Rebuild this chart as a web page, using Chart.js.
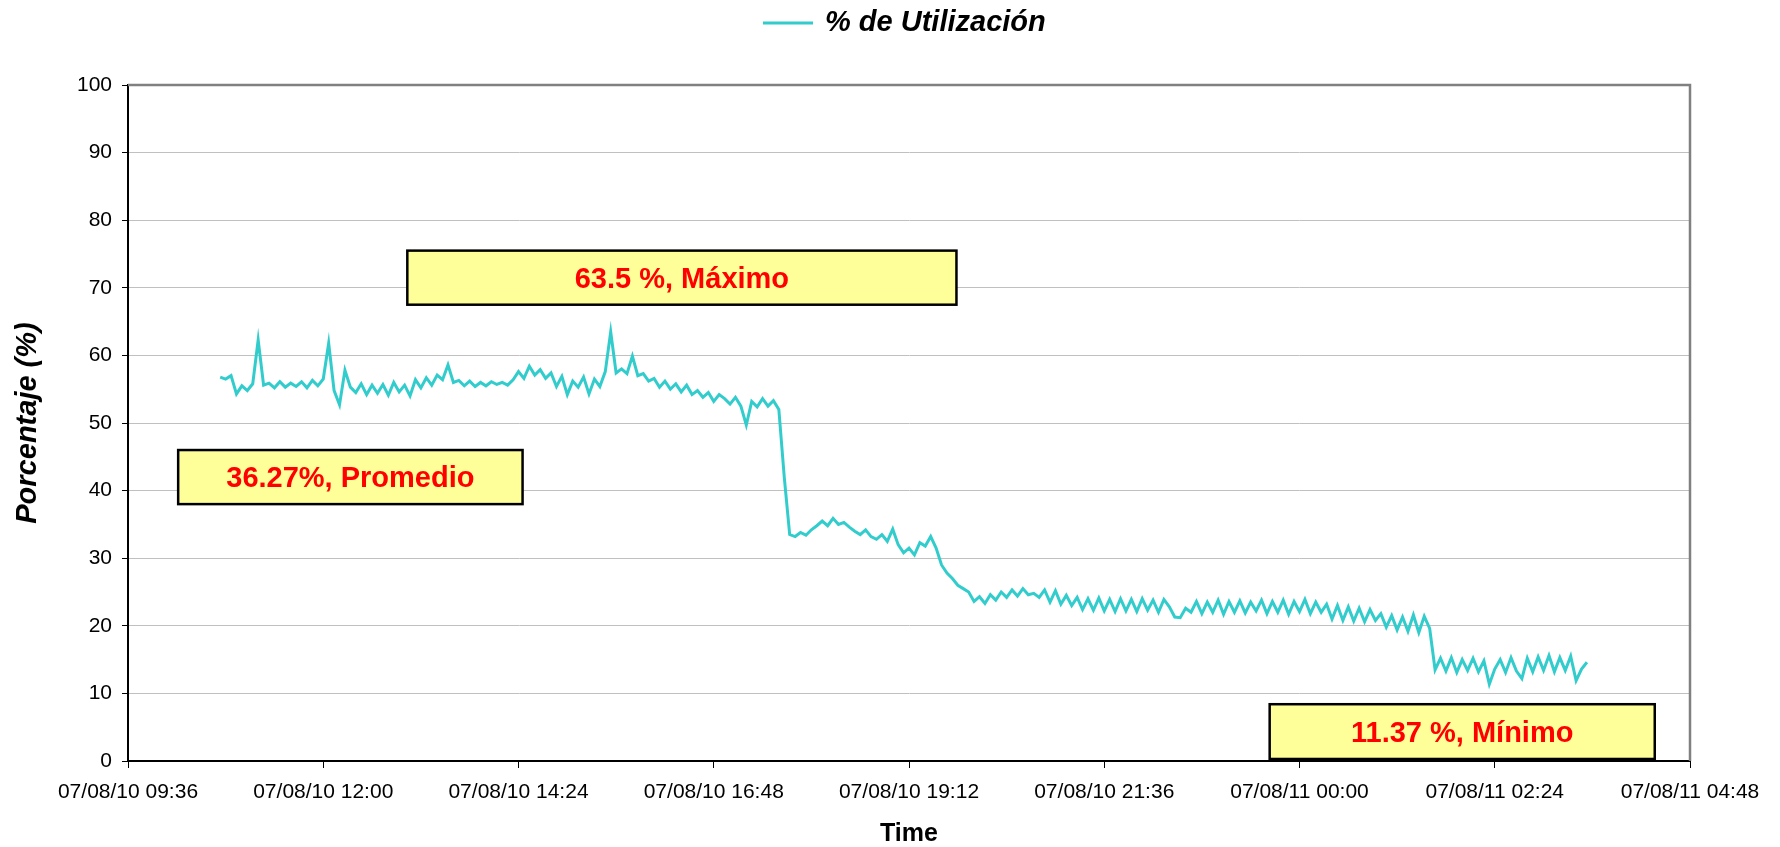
<!DOCTYPE html>
<html>
<head>
<meta charset="utf-8">
<script src="https://cdn.jsdelivr.net/npm/chart.js@4.4.1/dist/chart.umd.min.js"></script>
<style>
  html, body { margin: 0; padding: 0; background: #fff; }
</style>
</head>
<body>
<canvas id="grafico" width="1780" height="847"></canvas>
<script>
// etiquetas del eje de tiempo (cada 144 minutos desde 07/08/10 09:36)
const tickLabels = [
  '07/08/10 09:36', '07/08/10 12:00', '07/08/10 14:24', '07/08/10 16:48',
  '07/08/10 19:12', '07/08/10 21:36', '07/08/11 00:00', '07/08/11 02:24',
  '07/08/11 04:48'
];

// muestras cada 4 minutos, la primera a las 10:44 (68 min despues de 09:36)
const inicioMuestras = 68;
const pasoMinutos = 4;

const utilizacion = [
  56.8, 56.5, 57, 54.3, 55.5, 54.8, 55.8, 62.3, 55.6, 55.9, 55.2, 56.1, 55.3, 55.9, 55.4,
  56.1, 55.2, 56.3, 55.5, 56.5, 61.8, 54.8, 52.7, 57.8, 55.3, 54.5, 55.8, 54.2, 55.6, 54.4,
  55.7, 54.1, 56, 54.6, 55.6, 54, 56.4, 55.2, 56.7, 55.6, 57.1, 56.4, 58.6, 56, 56.3,
  55.5, 56.2, 55.4, 56, 55.5, 56.1, 55.7, 56, 55.6, 56.4, 57.6, 56.6, 58.4, 57.1, 57.9,
  56.6, 57.4, 55.4, 56.9, 54.2, 56.2, 55.3, 56.8, 54.3, 56.5, 55.4, 57.6, 63.5, 57.4, 58,
  57.3, 59.9, 57, 57.3, 56.2, 56.6, 55.3, 56.2, 55, 55.8, 54.6, 55.6, 54.2, 54.8, 53.8,
  54.5, 53.2, 54.2, 53.6, 52.8, 53.8, 52.5, 49.7, 53.2, 52.4, 53.6, 52.5, 53.3, 52, 42,
  33.5, 33.2, 33.8, 33.4, 34.2, 34.8, 35.5, 34.8, 35.9, 35, 35.3, 34.6, 34, 33.5, 34.2,
  33.2, 32.8, 33.5, 32.5, 34.3, 32, 30.8, 31.5, 30.5, 32.3, 31.8, 33.2, 31.5, 29, 27.8,
  27, 26, 25.5, 25, 23.6, 24.3, 23.3, 24.6, 23.8, 25, 24.2, 25.3, 24.4, 25.5, 24.6,
  24.8, 24.2, 25.3, 23.5, 25.2, 23.2, 24.5, 23, 24.2, 22.4, 24, 22.3, 24.1, 22.2, 23.9,
  22.1, 24, 22.2, 23.9, 22.1, 24, 22.3, 23.8, 22, 23.9, 22.8, 21.3, 21.2, 22.6, 22,
  23.6, 21.8, 23.5, 22, 23.8, 21.7, 23.6, 22, 23.7, 21.9, 23.5, 22.2, 23.8, 21.8, 23.6,
  22, 23.8, 21.7, 23.6, 22.1, 23.9, 21.8, 23.5, 22, 23.2, 21, 23, 20.8, 22.8, 20.7,
  22.6, 20.6, 22.4, 20.8, 21.8, 19.8, 21.5, 19.4, 21.3, 19.2, 21.6, 19, 21.4, 19.6, 13.5,
  15.2, 13.3, 15.3, 13.1, 15, 13.4, 15.2, 13.2, 14.8, 11.37, 13.6, 15, 13.1, 15.3, 13.3,
  12.2, 15.2, 13.2, 15.4, 13.4, 15.6, 13.2, 15.3, 13.4, 15.5, 11.9, 13.6, 14.6
];

// cuadros de texto: limites en minutos (x) y porcentaje (y)
const cuadros = [
  { texto: '36.27%, Promedio', x0: 37, x1: 291, y0: 38, y1: 46 },
  { texto: '63.5 %, Máximo', x0: 206, x1: 611, y0: 67.5, y1: 75.5 },
  { texto: '11.37 %, Mínimo', x0: 842, x1: 1126, y0: 0.3, y1: 8.4 }
];

const fuente = "'Liberation Sans', Arial, sans-serif";
const colorLinea = '#33CCCC';

const puntos = utilizacion.map((v, i) => ({ x: inicioMuestras + i * pasoMinutos, y: v }));

const extras = {
  id: 'extras',
  afterDraw(chart) {
    const ctx = chart.ctx;
    const { left, right, top, bottom } = chart.chartArea;
    const sx = chart.scales.x;
    const sy = chart.scales.y;
    ctx.save();

    // borde superior y derecho del area
    ctx.strokeStyle = '#808080';
    ctx.lineWidth = 2.5;
    ctx.beginPath();
    ctx.moveTo(left, top);
    ctx.lineTo(right, top);
    ctx.lineTo(right, bottom);
    ctx.stroke();

    // cuadros amarillos
    cuadros.forEach(c => {
      const x0 = sx.getPixelForValue(c.x0);
      const x1 = sx.getPixelForValue(c.x1);
      const y0 = sy.getPixelForValue(c.y1);
      const y1 = sy.getPixelForValue(c.y0);
      ctx.fillStyle = '#FFFF99';
      ctx.fillRect(x0, y0, x1 - x0, y1 - y0);
      ctx.strokeStyle = '#000';
      ctx.lineWidth = 2.5;
      ctx.strokeRect(x0, y0, x1 - x0, y1 - y0);
      ctx.fillStyle = '#FF0000';
      ctx.font = 'bold 29px ' + fuente;
      ctx.textAlign = 'center';
      ctx.textBaseline = 'middle';
      ctx.fillText(c.texto, (x0 + x1) / 2, (y0 + y1) / 2 + 2);
    });

    // leyenda
    const ds = chart.data.datasets[0];
    ctx.strokeStyle = colorLinea;
    ctx.lineWidth = 3;
    ctx.beginPath();
    ctx.moveTo(763, 23);
    ctx.lineTo(813, 23);
    ctx.stroke();
    ctx.fillStyle = '#000';
    ctx.font = 'italic bold 29px ' + fuente;
    ctx.textAlign = 'left';
    ctx.textBaseline = 'middle';
    ctx.fillText(ds.label, 825, 23);

    ctx.restore();
  }
};

new Chart(document.getElementById('grafico'), {
  type: 'line',
  data: {
    datasets: [{
      label: '% de Utilización',
      data: puntos,
      borderColor: colorLinea,
      backgroundColor: colorLinea,
      borderWidth: 3,
      pointRadius: 0,
      tension: 0,
      fill: false
    }]
  },
  options: {
    responsive: false,
    animation: false,
    devicePixelRatio: 1,
    parsing: false,
    layout: { padding: { top: 85, right: 90, left: 0, bottom: 0 } },
    plugins: {
      legend: { display: false },
      tooltip: { enabled: false }
    },
    scales: {
      x: {
        type: 'linear',
        min: 0,
        max: 1152,
        afterFit: s => { s.height = 86; },
        ticks: {
          stepSize: 144,
          autoSkip: false,
          maxRotation: 0,
          padding: 12,
          color: '#000',
          font: { family: fuente, size: 21 },
          callback: (v, i) => tickLabels[i]
        },
        grid: { drawOnChartArea: false, tickLength: 7, tickColor: '#000', tickWidth: 1 },
        border: { color: '#000', width: 2 },
        title: {
          display: true,
          text: 'Time',
          color: '#000',
          font: { family: fuente, size: 25, weight: 'bold', lineHeight: 1 },
          padding: { top: 0, bottom: 0 }
        }
      },
      y: {
        min: 0,
        max: 100,
        afterFit: s => { s.width = 128; },
        ticks: {
          stepSize: 10,
          padding: 10,
          color: '#000',
          font: { family: fuente, size: 21 }
        },
        grid: { color: '#C0C0C0', lineWidth: 1, tickLength: 6, tickColor: '#000' },
        border: { color: '#000', width: 2 },
        title: {
          display: true,
          text: 'Porcentaje (%)',
          color: '#000',
          font: { family: fuente, size: 29, weight: 'bold', style: 'italic' },
          padding: { top: 11, bottom: 0 }
        }
      }
    }
  },
  plugins: [extras]
});
</script>
</body>
</html>
